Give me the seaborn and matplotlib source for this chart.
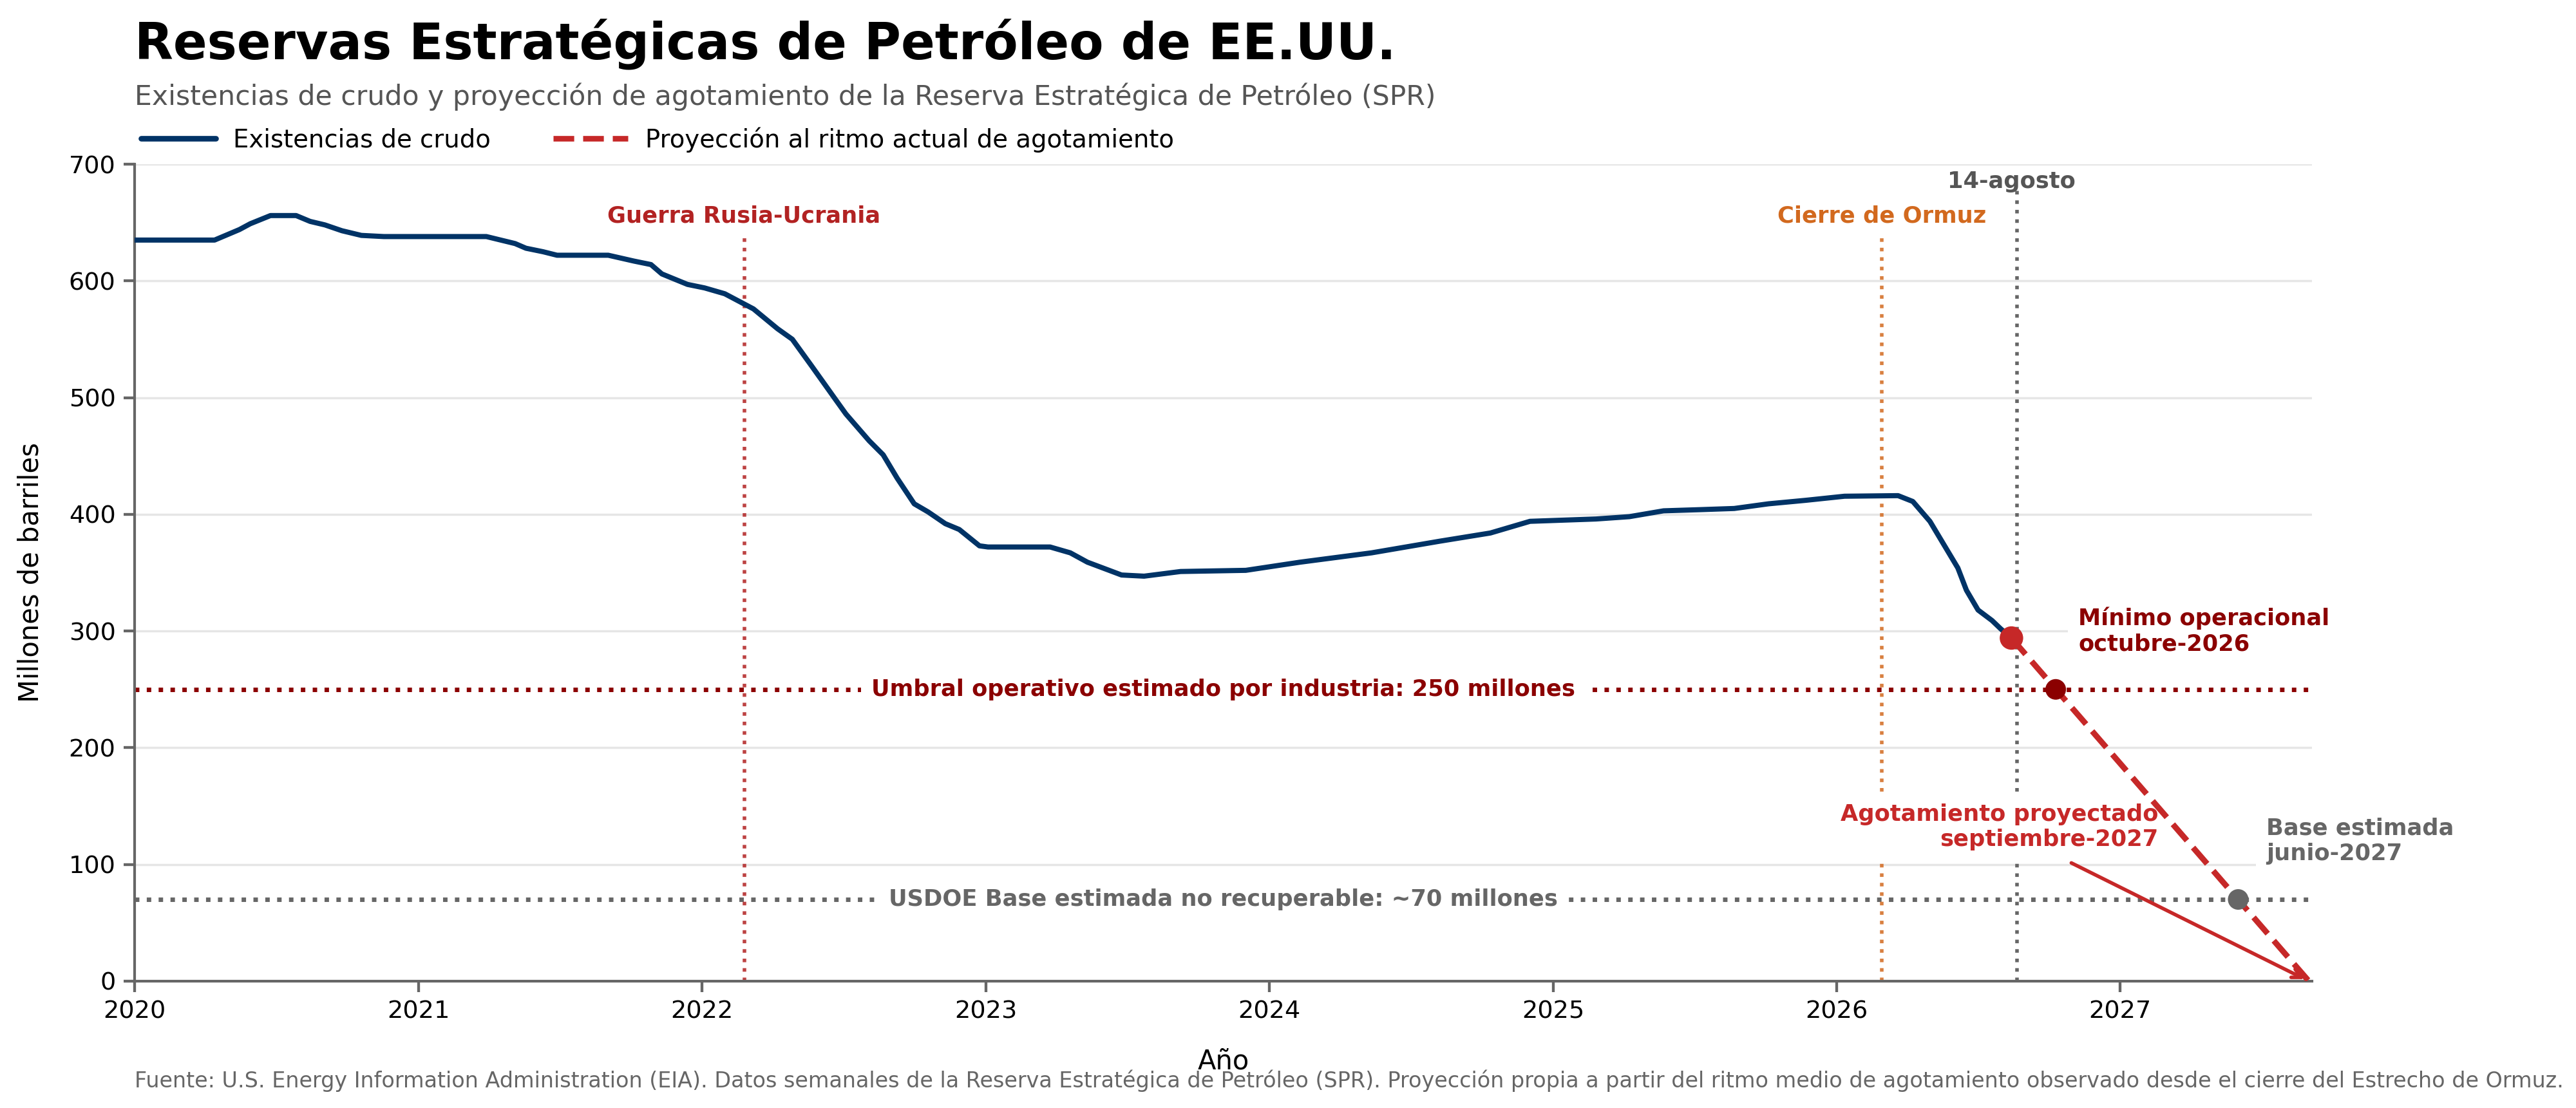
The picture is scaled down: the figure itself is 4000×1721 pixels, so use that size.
import matplotlib
matplotlib.use("Agg")
import matplotlib.pyplot as plt
import matplotlib.dates as mdates
import matplotlib.transforms as mtransforms
from matplotlib.lines import Line2D
import seaborn as sns
import pandas as pd

# ---------------- data ----------------
fechas = [
    "2020-01-01", "2020-04-13", "2020-05-15", "2020-05-29", "2020-06-24", "2020-07-27",
    "2020-08-14", "2020-09-02", "2020-09-24", "2020-10-19", "2020-11-17", "2021-03-29",
    "2021-05-05", "2021-05-19", "2021-06-10", "2021-06-28", "2021-09-02", "2021-10-05",
    "2021-10-27", "2021-11-10", "2021-12-13", "2022-01-04", "2022-01-30", "2022-03-08",
    "2022-04-08", "2022-04-27", "2022-05-22", "2022-06-21", "2022-07-05", "2022-08-04",
    "2022-08-22", "2022-09-09", "2022-10-01", "2022-10-19", "2022-11-10", "2022-11-28",
    "2022-12-24", "2023-01-04", "2023-03-25", "2023-04-20", "2023-05-12", "2023-06-25",
    "2023-07-24", "2023-09-09", "2023-12-02", "2024-02-10", "2024-05-12", "2024-08-08",
    "2024-10-12", "2024-12-02", "2025-02-25", "2025-04-09", "2025-05-23", "2025-07-09",
    "2025-08-22", "2025-10-05", "2025-11-22", "2026-01-11", "2026-03-21", "2026-04-09",
    "2026-05-01", "2026-05-19", "2026-06-06", "2026-06-17", "2026-07-02", "2026-07-20",
    "2026-07-31", "2026-08-14",
]
existencias = [
    635, 635, 644, 649, 656, 656,
    651, 648, 643, 639, 638, 638,
    632, 628, 625, 622, 622, 617,
    614, 606, 597, 594, 589, 576,
    559, 550, 527, 499, 486, 463,
    451, 431, 409, 402, 392, 387,
    373, 372, 372, 367, 359, 348,
    347, 351, 352, 359, 367, 377,
    384, 394, 396, 398, 403, 404,
    405, 409, 412, 415.5, 416, 411,
    394, 374, 354, 335, 318, 309,
    302, 294,
]

proy_fechas = ["2026-08-14", "2027-09-01"]
proy_valores = [294, 0]

hito_fechas = ["2026-08-14", "2026-10-10", "2027-06-02"]
hito_valores = [294, 250, 70]

umbral_operativo = 250
base_no_recuperable = 70

fecha_rusia = "2022-02-24"
fecha_ormuz = "2026-02-28"
fecha_corte = "2026-08-21"
fecha_etiqueta_corte = "2026-08-14"
fecha_agotamiento = "2027-09-01"

yticks = [0, 100, 200, 300, 400, 500, 600, 700]

# ---------------- style ----------------
sns.set_theme(style="ticks", context="notebook")
plt.rcParams["font.family"] = ["DejaVu Sans"]
plt.rcParams["text.color"] = "black"
plt.rcParams["axes.labelcolor"] = "black"

NAVY = "#003366"
RED = "#C62828"
DARKRED = "#8B0000"
GREY = "#666666"
FIREBRICK = "#B22222"
ORANGE = "#D2691E"
FS_NOTE = 10.15

df = pd.DataFrame({"fecha": pd.to_datetime(fechas), "valor": existencias})
dfp = pd.DataFrame({"fecha": pd.to_datetime(proy_fechas), "valor": proy_valores})
dfh = pd.DataFrame({"fecha": pd.to_datetime(hito_fechas), "valor": hito_valores,
                    "tipo": ["actual", "minimo", "base"]})

fig = plt.figure(figsize=(16, 6.884), dpi=250)
ax = fig.add_axes([0.05225, 0.1145, 0.84525, 0.7373])

ax.yaxis.grid(True, color="#E6E6E6", lw=1.0)
ax.set_axisbelow(True)

# reference lines
ax.axhline(umbral_operativo, color=DARKRED, ls=":", lw=2.0, zorder=2)
ax.axhline(base_no_recuperable, color=GREY, ls=":", lw=2.0, zorder=2)
ax.vlines(pd.to_datetime(fecha_rusia), 0, 640, color=FIREBRICK, ls=":", lw=1.6, alpha=0.85, zorder=2)
ax.vlines(pd.to_datetime(fecha_ormuz), 0, 640, color=ORANGE, ls=":", lw=1.6, alpha=0.85, zorder=2)
ax.vlines(pd.to_datetime(fecha_corte), 0, 680, color=GREY, ls=":", lw=1.6, zorder=2)

# series
sns.lineplot(data=df, x="fecha", y="valor", color=NAVY, lw=2.3, ax=ax, zorder=4)
sns.lineplot(data=dfp, x="fecha", y="valor", color=RED, lw=2.6, ax=ax, zorder=4,
             linestyle="--")
sns.scatterplot(data=dfh, x="fecha", y="valor", hue="tipo",
                palette={"actual": RED, "minimo": DARKRED, "base": GREY},
                size="tipo", sizes={"actual": 110, "minimo": 85, "base": 85},
                edgecolor="none", linewidth=0, legend=False, ax=ax, zorder=5)

# axes
ax.set_xlim(pd.Timestamp("2020-01-01"), pd.Timestamp("2027-09-05"))
ax.set_ylim(0, 700)
ax.set_yticks(yticks)
ax.xaxis.set_major_locator(mdates.YearLocator())
ax.xaxis.set_major_formatter(mdates.DateFormatter("%Y"))
ax.tick_params(axis="both", labelsize=11, color=GREY, labelcolor="black", length=5)
sns.despine(ax=ax)
for s in ["left", "bottom"]:
    ax.spines[s].set_color(GREY)
    ax.spines[s].set_linewidth(1.2)
ax.set_xlabel("Año", fontsize=12, labelpad=11, color="black")
ax.set_ylabel("Millones de barriles", fontsize=12, labelpad=11, color="black")

# annotations
box = dict(boxstyle="square,pad=0.45", fc="white", ec="none")
trans = mtransforms.blended_transform_factory(ax.transAxes, ax.transData)
ax.text(0.5, umbral_operativo, "Umbral operativo estimado por industria: 250 millones",
        transform=trans, ha="center", va="center", fontsize=FS_NOTE, fontweight="bold",
        color=DARKRED, bbox=box, zorder=3)
ax.text(0.5, base_no_recuperable, "USDOE Base estimada no recuperable: ~70 millones",
        transform=trans, ha="center", va="center", fontsize=FS_NOTE, fontweight="bold",
        color=GREY, bbox=box, zorder=3)

ax.text(pd.to_datetime(fecha_rusia), 646, "Guerra Rusia-Ucrania", ha="center", va="bottom",
        fontsize=FS_NOTE, fontweight="bold", color=FIREBRICK)
ax.text(pd.to_datetime(fecha_ormuz), 646, "Cierre de Ormuz", ha="center", va="bottom",
        fontsize=FS_NOTE, fontweight="bold", color=ORANGE)
ax.text(pd.to_datetime(fecha_etiqueta_corte), 676, "14-agosto", ha="center", va="bottom",
        fontsize=FS_NOTE, fontweight="bold", color="#555555")

ax.text(pd.Timestamp("2026-11-08"), 300, "Mínimo operacional\noctubre-2026", ha="left",
        va="center", fontsize=FS_NOTE, fontweight="bold", color=DARKRED, bbox=box, zorder=3)
ax.text(pd.Timestamp("2027-07-08"), 120, "Base estimada\njunio-2027", ha="left",
        va="center", fontsize=FS_NOTE, fontweight="bold", color=GREY, bbox=box, zorder=3)
ax.annotate("Agotamiento proyectado\nseptiembre-2027",
            xy=(pd.to_datetime(fecha_agotamiento), 0),
            xytext=(pd.Timestamp("2027-02-19"), 132),
            ha="right", va="center", fontsize=FS_NOTE, fontweight="bold", color=RED,
            bbox=box, zorder=3,
            arrowprops=dict(arrowstyle="->", color=RED, lw=1.6))

# legend
handles = [Line2D([0], [0], color=NAVY, lw=2.5),
           Line2D([0], [0], color=RED, lw=2.5, ls="--")]
leg = ax.legend(handles, ["Existencias de crudo", "Proyección al ritmo actual de agotamiento"],
                loc="center left", bbox_to_anchor=(0.003, 1.03), ncol=2, frameon=False,
                fontsize=11.15, handlelength=3.0, handletextpad=0.7, columnspacing=2.5,
                borderaxespad=0, borderpad=0)
for t in leg.get_texts():
    t.set_color("black")

# titles and footer
fig.text(0.05225, 0.947, "Reservas Estratégicas de Petróleo de EE.UU.", fontsize=22.4,
         fontweight="bold", ha="left", va="baseline", color="black")
fig.text(0.05225, 0.9053,
         "Existencias de crudo y proyección de agotamiento de la Reserva Estratégica de Petróleo (SPR)",
         fontsize=12.27, ha="left", va="baseline", color="#555555")
fig.text(0.05225, 0.0244,
         "Fuente: U.S. Energy Information Administration (EIA). Datos semanales de la Reserva "
         "Estratégica de Petróleo (SPR). Proyección propia a partir del ritmo medio de agotamiento "
         "observado desde el cierre del Estrecho de Ormuz.",
         fontsize=9.6, ha="left", va="center", color=GREY)

fig.savefig("out.png", dpi=250, facecolor="white")
